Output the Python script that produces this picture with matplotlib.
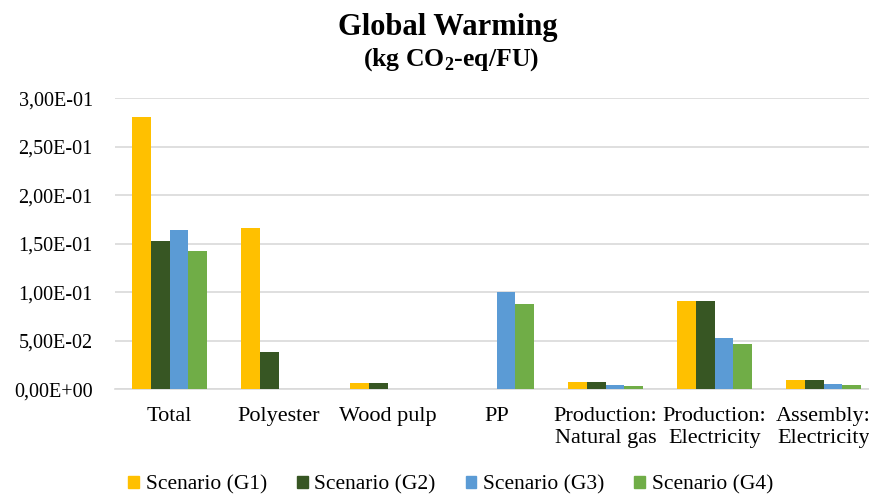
import numpy as np
import matplotlib
matplotlib.use("Agg")
import matplotlib.pyplot as plt
from matplotlib.ticker import FuncFormatter
from matplotlib.patches import Patch

plt.rcParams['font.family'] = ['Liberation Serif', 'DejaVu Serif']
plt.rcParams['mathtext.fontset'] = 'custom'
plt.rcParams['mathtext.rm'] = 'Liberation Serif:bold'
plt.rcParams['mathtext.bf'] = 'Liberation Serif:bold'

# impact categories and per-scenario results (kg CO2-eq/FU)
categories = ["Total", "Polyester", "Wood pulp", "PP",
              "Production:\nNatural gas", "Production:\nElectricity", "Assembly:\nElectricity"]
scenarios = ["Scenario (G1)", "Scenario (G2)", "Scenario (G3)", "Scenario (G4)"]
g1 = [0.281, 0.166, 0.0060, 0.0, 0.0075, 0.0907, 0.0093]
g2 = [0.153, 0.0385, 0.0060, 0.0, 0.0075, 0.0907, 0.0098]
g3 = [0.164, 0.0, 0.0, 0.100, 0.0048, 0.0533, 0.0059]
g4 = [0.143, 0.0, 0.0, 0.0875, 0.0038, 0.0471, 0.0048]
colors = ["#FFC000", "#375623", "#5B9BD5", "#70AD47"]

fig = plt.figure(figsize=(8.7, 4.95), dpi=100)
ax = fig.add_axes([115 / 870, 105.7 / 495, 763 / 870, 291 / 495])

x = np.arange(len(categories))
w = 0.17
for i, (vals, c) in enumerate(zip([g1, g2, g3, g4], colors)):
    ax.bar(x + (i - 1.5) * w, vals, width=w, color=c, label=scenarios[i], zorder=3)

ax.set_xlim(-0.5, len(categories) - 0.5)
ax.set_ylim(0, 0.30)
ax.set_yticks(np.arange(0, 0.301, 0.05))
ax.yaxis.set_major_formatter(FuncFormatter(lambda v, p: f"{v:.2E}".replace(".", ",")))
ax.grid(axis="y", color="#D9D9D9", linewidth=1.2, zorder=0)
for s in ["top", "right", "left"]:
    ax.spines[s].set_visible(False)
ax.spines["bottom"].set_color("#D9D9D9")
ax.spines["bottom"].set_linewidth(1.2)
ax.tick_params(axis="both", length=0, colors="black")
ax.tick_params(axis="y", pad=16, labelsize=14.5)
ax.tick_params(axis="x", pad=13, labelsize=16)
ax.set_xticks(x)
ax.set_xticklabels(categories, linespacing=1.2)

fig.text(0.515, 0.945, "Global Warming", ha="center", va="center",
         fontsize=22, fontweight="bold")
fig.text(0.518, 0.88, r"(kg CO$_\mathbf{2}$-eq/FU)", ha="center", va="center",
         fontsize=18.5, fontweight="bold")

handles = [Patch(color=c) for c in colors]
fig.legend(handles, scenarios, loc="center", bbox_to_anchor=(0.518, 0.02), ncol=4,
           frameon=False, fontsize=15.5, handlelength=0.5, handleheight=0.5,
           handletextpad=0.3, columnspacing=1.4, borderpad=0)

fig.savefig("out.png", dpi=100)
